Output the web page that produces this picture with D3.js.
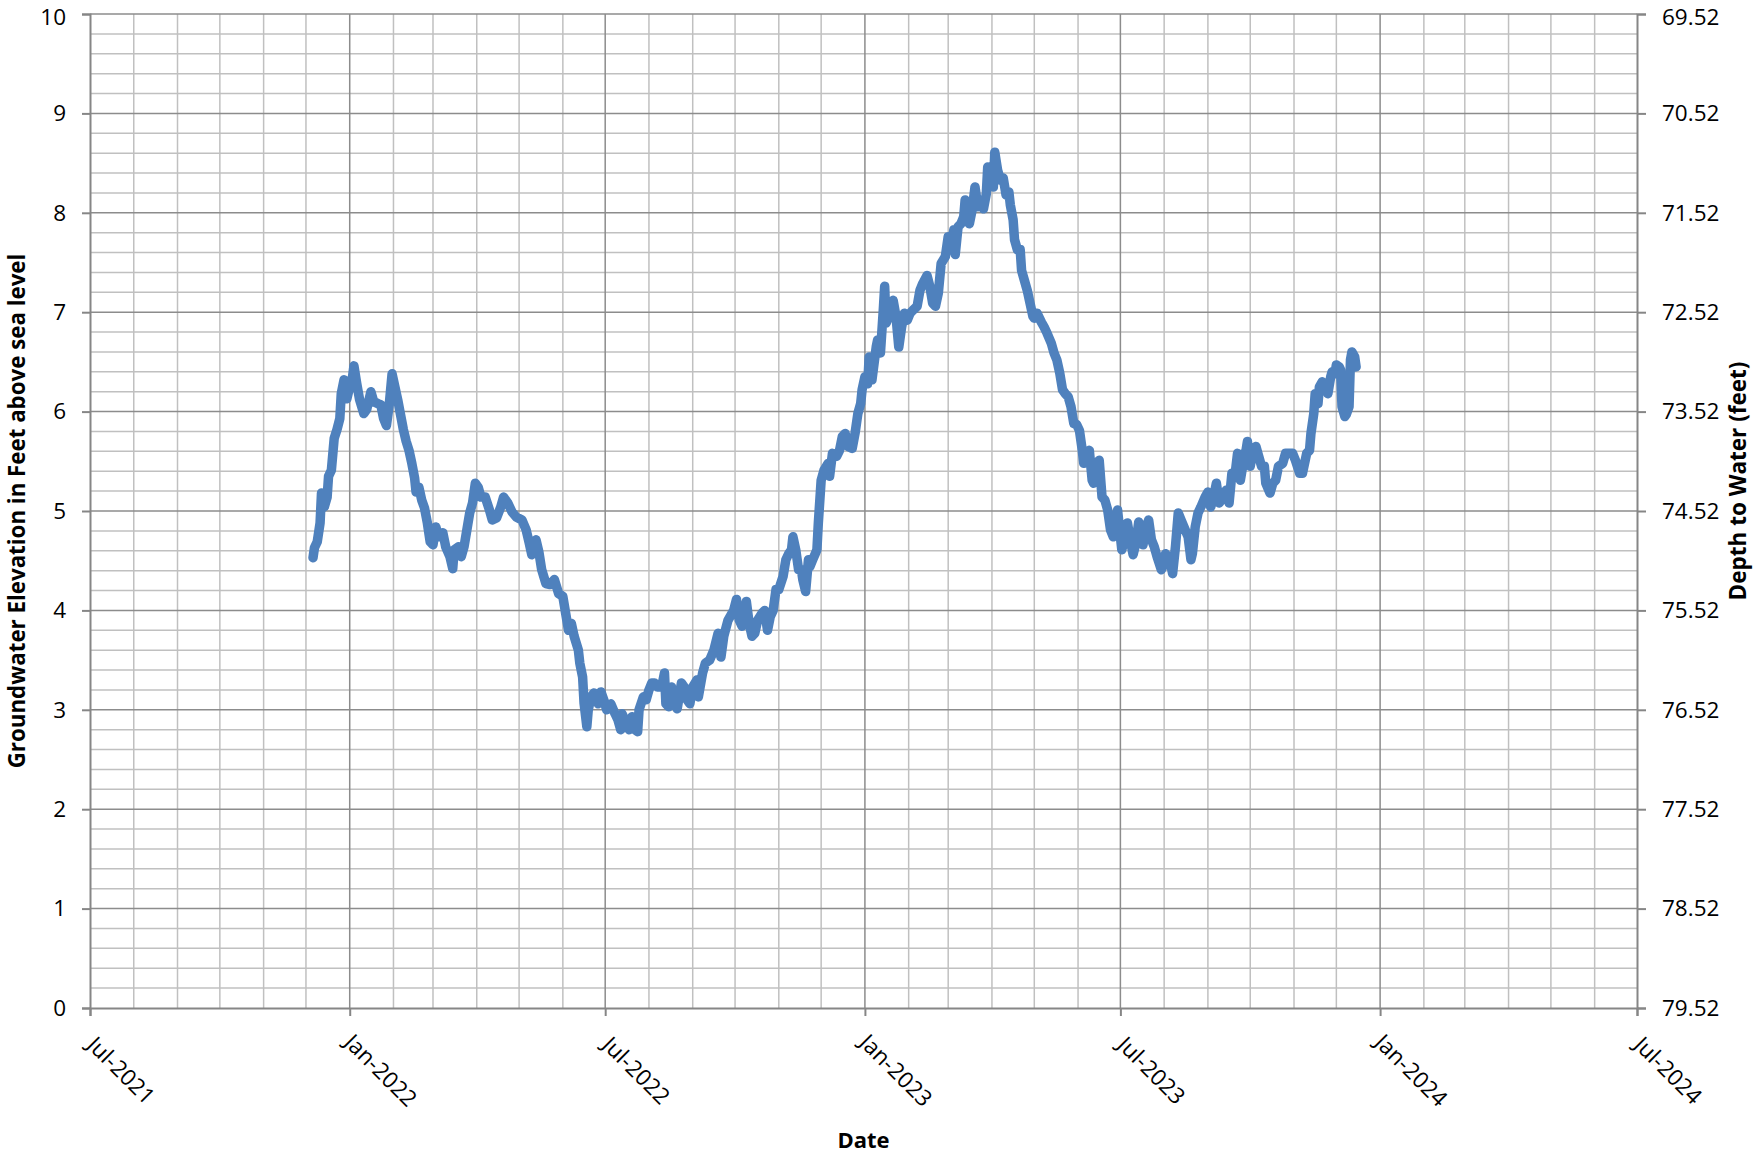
<!DOCTYPE html>
<html>
<head>
<meta charset="utf-8">
<script src="https://cdn.jsdelivr.net/npm/d3@7"></script>
<style>
  body { margin: 0; background: #fff; }
  text { font-family: "Open Sans", sans-serif; fill: #000; }
</style>
</head>
<body>
<div id="chart"></div>
<script>
/**
 * CONSTANTS
 * */
const width = 1754,
  height = 1155,
  margin = { top: 14, right: 117, bottom: 147, left: 90 };

// elevation axis (left), feet above sea level
const elevationTicks = [0, 1, 2, 3, 4, 5, 6, 7, 8, 9, 10];
// depth to water axis (right), feet
const depthTicks = [69.52, 70.52, 71.52, 72.52, 73.52, 74.52, 75.52, 76.52, 77.52, 78.52, 79.52];
// date axis labels
const dateTicks = ["2021-07-01", "2022-01-01", "2022-07-01", "2023-01-01", "2023-07-01", "2024-01-01", "2024-07-01"];

// groundwater elevation readings
const readings = [
  ["2021-12-06", 4.53], ["2021-12-07", 4.63], ["2021-12-09", 4.69], ["2021-12-11", 4.88],
  ["2021-12-12", 5.18], ["2021-12-14", 5.04], ["2021-12-16", 5.14], ["2021-12-17", 5.35],
  ["2021-12-19", 5.41], ["2021-12-21", 5.73], ["2021-12-23", 5.82], ["2021-12-25", 5.93],
  ["2021-12-26", 6.18], ["2021-12-28", 6.32], ["2021-12-30", 6.13], ["2022-01-01", 6.25],
  ["2022-01-03", 6.35], ["2022-01-04", 6.46], ["2022-01-06", 6.28], ["2022-01-08", 6.12],
  ["2022-01-11", 5.98], ["2022-01-13", 6.02], ["2022-01-16", 6.20], ["2022-01-18", 6.10],
  ["2022-01-21", 6.08], ["2022-01-23", 6.07], ["2022-01-25", 5.93], ["2022-01-27", 5.86],
  ["2022-01-29", 6.07], ["2022-01-31", 6.38], ["2022-02-02", 6.25], ["2022-02-04", 6.12],
  ["2022-02-06", 5.97], ["2022-02-08", 5.82], ["2022-02-10", 5.70], ["2022-02-12", 5.61],
  ["2022-02-14", 5.48], ["2022-02-16", 5.33], ["2022-02-17", 5.19], ["2022-02-19", 5.24],
  ["2022-02-21", 5.11], ["2022-02-23", 5.03], ["2022-02-25", 4.88], ["2022-02-27", 4.69],
  ["2022-03-01", 4.66], ["2022-03-03", 4.84], ["2022-03-05", 4.74], ["2022-03-08", 4.78],
  ["2022-03-10", 4.64], ["2022-03-13", 4.54], ["2022-03-15", 4.42], ["2022-03-16", 4.61],
  ["2022-03-19", 4.64], ["2022-03-21", 4.54], ["2022-03-23", 4.64], ["2022-03-25", 4.81],
  ["2022-03-27", 4.98], ["2022-03-29", 5.08], ["2022-03-31", 5.28], ["2022-04-02", 5.24],
  ["2022-04-04", 5.14], ["2022-04-07", 5.14], ["2022-04-10", 5.01], ["2022-04-12", 4.91],
  ["2022-04-15", 4.93], ["2022-04-18", 5.04], ["2022-04-20", 5.14], ["2022-04-23", 5.08],
  ["2022-04-26", 4.99], ["2022-04-29", 4.94], ["2022-05-03", 4.91], ["2022-05-06", 4.81],
  ["2022-05-08", 4.69], ["2022-05-10", 4.56], ["2022-05-13", 4.71], ["2022-05-15", 4.59],
  ["2022-05-17", 4.41], ["2022-05-20", 4.27], ["2022-05-23", 4.26], ["2022-05-26", 4.31],
  ["2022-05-29", 4.17], ["2022-06-01", 4.14], ["2022-06-03", 3.97], ["2022-06-05", 3.80],
  ["2022-06-07", 3.87], ["2022-06-09", 3.74], ["2022-06-12", 3.60], ["2022-06-13", 3.47],
  ["2022-06-15", 3.33], ["2022-06-16", 3.07], ["2022-06-18", 2.83], ["2022-06-19", 3.00],
  ["2022-06-21", 3.13], ["2022-06-23", 3.17], ["2022-06-26", 3.06], ["2022-06-28", 3.18],
  ["2022-06-30", 3.10], ["2022-07-02", 3.00], ["2022-07-05", 3.06], ["2022-07-08", 2.96],
  ["2022-07-10", 2.90], ["2022-07-12", 2.80], ["2022-07-13", 2.96], ["2022-07-16", 2.86],
  ["2022-07-18", 2.80], ["2022-07-20", 2.93], ["2022-07-22", 2.80], ["2022-07-24", 2.78],
  ["2022-07-25", 3.00], ["2022-07-28", 3.13], ["2022-07-30", 3.10], ["2022-08-01", 3.20],
  ["2022-08-03", 3.27], ["2022-08-05", 3.27], ["2022-08-07", 3.23], ["2022-08-10", 3.23],
  ["2022-08-12", 3.37], ["2022-08-13", 3.06], ["2022-08-15", 3.03], ["2022-08-17", 3.23],
  ["2022-08-19", 3.10], ["2022-08-21", 3.01], ["2022-08-24", 3.27], ["2022-08-26", 3.23],
  ["2022-08-28", 3.10], ["2022-08-30", 3.06], ["2022-09-01", 3.23], ["2022-09-04", 3.30],
  ["2022-09-05", 3.13], ["2022-09-08", 3.37], ["2022-09-10", 3.47], ["2022-09-13", 3.50],
  ["2022-09-16", 3.60], ["2022-09-19", 3.77], ["2022-09-21", 3.53], ["2022-09-23", 3.74],
  ["2022-09-26", 3.90], ["2022-09-30", 4.00], ["2022-10-02", 4.11], ["2022-10-04", 3.90],
  ["2022-10-06", 3.84], ["2022-10-09", 4.09], ["2022-10-11", 3.87], ["2022-10-13", 3.74],
  ["2022-10-15", 3.77], ["2022-10-17", 3.90], ["2022-10-20", 3.97], ["2022-10-22", 4.00],
  ["2022-10-24", 3.80], ["2022-10-26", 3.94], ["2022-10-28", 4.00], ["2022-10-30", 4.21],
  ["2022-11-01", 4.21], ["2022-11-04", 4.34], ["2022-11-06", 4.51], ["2022-11-08", 4.57],
  ["2022-11-10", 4.61], ["2022-11-11", 4.74], ["2022-11-13", 4.61], ["2022-11-15", 4.41],
  ["2022-11-17", 4.41], ["2022-11-18", 4.31], ["2022-11-20", 4.19], ["2022-11-22", 4.51],
  ["2022-11-23", 4.44], ["2022-11-25", 4.51], ["2022-11-28", 4.61], ["2022-11-29", 4.88],
  ["2022-12-01", 5.31], ["2022-12-03", 5.41], ["2022-12-06", 5.48], ["2022-12-07", 5.35],
  ["2022-12-09", 5.58], ["2022-12-12", 5.55], ["2022-12-14", 5.61], ["2022-12-16", 5.75],
  ["2022-12-18", 5.78], ["2022-12-20", 5.65], ["2022-12-23", 5.63], ["2022-12-25", 5.78],
  ["2022-12-27", 5.98], ["2022-12-29", 6.08], ["2022-12-30", 6.22], ["2023-01-01", 6.35],
  ["2023-01-03", 6.28], ["2023-01-04", 6.55], ["2023-01-06", 6.32], ["2023-01-09", 6.65],
  ["2023-01-10", 6.72], ["2023-01-12", 6.59], ["2023-01-14", 7.02], ["2023-01-15", 7.26],
  ["2023-01-16", 6.89], ["2023-01-18", 6.96], ["2023-01-21", 7.12], ["2023-01-23", 6.96],
  ["2023-01-25", 6.65], ["2023-01-27", 6.85], ["2023-01-29", 6.99], ["2023-01-31", 6.92],
  ["2023-02-02", 6.99], ["2023-02-04", 7.02], ["2023-02-07", 7.06], ["2023-02-09", 7.22],
  ["2023-02-11", 7.29], ["2023-02-14", 7.37], ["2023-02-16", 7.26], ["2023-02-18", 7.09],
  ["2023-02-20", 7.06], ["2023-02-22", 7.19], ["2023-02-24", 7.49], ["2023-02-27", 7.56],
  ["2023-03-01", 7.76], ["2023-03-03", 7.66], ["2023-03-05", 7.83], ["2023-03-06", 7.58],
  ["2023-03-08", 7.86], ["2023-03-10", 7.89], ["2023-03-12", 7.96], ["2023-03-13", 8.13],
  ["2023-03-15", 7.96], ["2023-03-16", 7.89], ["2023-03-18", 8.03], ["2023-03-20", 8.26],
  ["2023-03-22", 8.06], ["2023-03-24", 8.09], ["2023-03-26", 8.04], ["2023-03-28", 8.19],
  ["2023-03-29", 8.46], ["2023-03-31", 8.33], ["2023-04-01", 8.36], ["2023-04-02", 8.26],
  ["2023-04-03", 8.61], ["2023-04-05", 8.43], ["2023-04-07", 8.33], ["2023-04-09", 8.35],
  ["2023-04-11", 8.18], ["2023-04-13", 8.21], ["2023-04-14", 8.08], ["2023-04-16", 7.93],
  ["2023-04-17", 7.73], ["2023-04-19", 7.63], ["2023-04-21", 7.63], ["2023-04-22", 7.42],
  ["2023-04-24", 7.32], ["2023-04-26", 7.22], ["2023-04-28", 7.09], ["2023-04-30", 6.96],
  ["2023-05-01", 6.94], ["2023-05-03", 6.99], ["2023-05-06", 6.90], ["2023-05-08", 6.85],
  ["2023-05-10", 6.79], ["2023-05-13", 6.69], ["2023-05-15", 6.59], ["2023-05-17", 6.52],
  ["2023-05-19", 6.39], ["2023-05-21", 6.22], ["2023-05-23", 6.18], ["2023-05-25", 6.15],
  ["2023-05-27", 6.05], ["2023-05-29", 5.88], ["2023-05-31", 5.87], ["2023-06-02", 5.81],
  ["2023-06-04", 5.61], ["2023-06-05", 5.48], ["2023-06-06", 5.58], ["2023-06-09", 5.61],
  ["2023-06-11", 5.31], ["2023-06-12", 5.28], ["2023-06-14", 5.48], ["2023-06-16", 5.51],
  ["2023-06-18", 5.14], ["2023-06-20", 5.11], ["2023-06-22", 5.01], ["2023-06-24", 4.81],
  ["2023-06-26", 4.74], ["2023-06-28", 4.88], ["2023-06-29", 5.01], ["2023-07-01", 4.74],
  ["2023-07-02", 4.61], ["2023-07-04", 4.71], ["2023-07-06", 4.88], ["2023-07-08", 4.71],
  ["2023-07-10", 4.56], ["2023-07-12", 4.68], ["2023-07-14", 4.89], ["2023-07-16", 4.81],
  ["2023-07-17", 4.66], ["2023-07-19", 4.81], ["2023-07-21", 4.91], ["2023-07-23", 4.71],
  ["2023-07-25", 4.64], ["2023-07-27", 4.54], ["2023-07-30", 4.41], ["2023-07-31", 4.44],
  ["2023-08-02", 4.57], ["2023-08-05", 4.51], ["2023-08-07", 4.37], ["2023-08-09", 4.64],
  ["2023-08-11", 4.98], ["2023-08-13", 4.91], ["2023-08-15", 4.84], ["2023-08-18", 4.74],
  ["2023-08-20", 4.51], ["2023-08-21", 4.57], ["2023-08-23", 4.84], ["2023-08-25", 4.98],
  ["2023-08-27", 5.04], ["2023-08-30", 5.14], ["2023-09-01", 5.19], ["2023-09-03", 5.04],
  ["2023-09-05", 5.14], ["2023-09-07", 5.28], ["2023-09-09", 5.08], ["2023-09-12", 5.14],
  ["2023-09-14", 5.21], ["2023-09-16", 5.08], ["2023-09-18", 5.38], ["2023-09-20", 5.34],
  ["2023-09-22", 5.58], ["2023-09-24", 5.31], ["2023-09-26", 5.48], ["2023-09-28", 5.61],
  ["2023-09-29", 5.70], ["2023-10-01", 5.45], ["2023-10-03", 5.61], ["2023-10-05", 5.65],
  ["2023-10-07", 5.55], ["2023-10-09", 5.45], ["2023-10-11", 5.45], ["2023-10-12", 5.28],
  ["2023-10-15", 5.18], ["2023-10-17", 5.28], ["2023-10-19", 5.31], ["2023-10-21", 5.45],
  ["2023-10-24", 5.48], ["2023-10-26", 5.58], ["2023-10-29", 5.58], ["2023-10-31", 5.58],
  ["2023-11-02", 5.51], ["2023-11-05", 5.38], ["2023-11-07", 5.38], ["2023-11-10", 5.58],
  ["2023-11-12", 5.61], ["2023-11-13", 5.78], ["2023-11-15", 5.98], ["2023-11-16", 6.18],
  ["2023-11-18", 6.08], ["2023-11-19", 6.25], ["2023-11-21", 6.30], ["2023-11-23", 6.28],
  ["2023-11-25", 6.18], ["2023-11-27", 6.35], ["2023-11-28", 6.40], ["2023-11-30", 6.38],
  ["2023-12-01", 6.47], ["2023-12-03", 6.45], ["2023-12-04", 6.42], ["2023-12-05", 6.05],
  ["2023-12-07", 5.95], ["2023-12-08", 5.97], ["2023-12-10", 6.05], ["2023-12-11", 6.52],
  ["2023-12-12", 6.60], ["2023-12-14", 6.55], ["2023-12-15", 6.45]
];

const parseDate = d3.utcParse("%Y-%m-%d");
const series = readings.map(([d, v]) => ({ date: parseDate(d), value: v }));
const tickDates = dateTicks.map(parseDate);

const svg = d3.select("#chart")
  .append("svg")
  .attr("width", width)
  .attr("height", height);

const x = d3.scaleUtc()
  .domain([tickDates[0], tickDates[tickDates.length - 1]])
  .range([margin.left, width - margin.right]);

const y = d3.scaleLinear()
  .domain([0, 10])
  .range([height - margin.bottom, margin.top]);

const yDepth = d3.scaleLinear()
  .domain([79.52, 69.52])
  .range([height - margin.bottom, margin.top]);

const x0 = margin.left, x1 = width - margin.right;
const y0 = height - margin.bottom, y1 = margin.top;

// minor grid: monthly and every 0.2 ft
const minorMonths = d3.utcMonth.range(tickDates[0], tickDates[tickDates.length - 1])
  .filter(d => d.getUTCMonth() % 6 !== 0);
const minorLevels = d3.range(1, 50).map(i => i / 5).filter(v => Math.abs(v - Math.round(v)) > 0.01);

svg.append("g")
  .attr("stroke", "#c0c0c0")
  .attr("stroke-width", 1.5)
  .selectAll("line.vminor")
  .data(minorMonths)
  .join("line")
  .attr("x1", d => x(d)).attr("x2", d => x(d))
  .attr("y1", y1).attr("y2", y0);

svg.append("g")
  .attr("stroke", "#c0c0c0")
  .attr("stroke-width", 1.5)
  .selectAll("line.hminor")
  .data(minorLevels)
  .join("line")
  .attr("x1", x0).attr("x2", x1)
  .attr("y1", d => y(d)).attr("y2", d => y(d));

// major grid
svg.append("g")
  .attr("stroke", "#8c8c8c")
  .attr("stroke-width", 1.5)
  .selectAll("line")
  .data(tickDates.slice(1, -1))
  .join("line")
  .attr("x1", d => x(d)).attr("x2", d => x(d))
  .attr("y1", y1).attr("y2", y0);

svg.append("g")
  .attr("stroke", "#8c8c8c")
  .attr("stroke-width", 1.5)
  .selectAll("line")
  .data(elevationTicks.slice(1))
  .join("line")
  .attr("x1", x0).attr("x2", x1)
  .attr("y1", d => y(d)).attr("y2", d => y(d));

// axes
const axisColor = "#868686";

const leftAxis = svg.append("g")
  .attr("transform", `translate(${x0},0)`)
  .call(d3.axisLeft(y).tickValues(elevationTicks).tickSize(8).tickPadding(16).tickFormat(d3.format("d")));

const rightAxis = svg.append("g")
  .attr("transform", `translate(${x1},0)`)
  .call(d3.axisRight(yDepth).tickValues(depthTicks).tickSize(9).tickPadding(16).tickFormat(d3.format(".2f")));

const bottomAxis = svg.append("g")
  .attr("transform", `translate(0,${y0})`)
  .call(d3.axisBottom(x).tickValues(tickDates).tickSize(8).tickFormat(d3.utcFormat("%b-%Y")));

[leftAxis, rightAxis, bottomAxis].forEach(g => {
  g.select(".domain").attr("stroke", axisColor).attr("stroke-width", 2);
  g.selectAll(".tick line").attr("stroke", axisColor).attr("stroke-width", 2);
  g.selectAll("text")
    .attr("font-family", "Open Sans, sans-serif")
    .attr("font-size", 22.5)
    .attr("fill", "#000");
});

// keep the topmost labels inside the page edge
leftAxis.selectAll(".tick text").filter(d => d === 10).attr("y", 3);
rightAxis.selectAll(".tick text").filter(d => d === 69.52).attr("y", 3);

bottomAxis.selectAll("text")
  .attr("text-anchor", "middle")
  .attr("dy", null)
  .attr("y", null)
  .attr("dominant-baseline", "central")
  .attr("transform", "translate(31,62) rotate(45)");

// the hydrograph
const line = d3.line()
  .x(d => x(d.date))
  .y(d => y(d.value));

svg.append("path")
  .datum(series)
  .attr("fill", "none")
  .attr("stroke", "#4f81bd")
  .attr("stroke-width", 9.5)
  .attr("stroke-linejoin", "round")
  .attr("stroke-linecap", "round")
  .attr("d", line);

// axis titles
svg.append("text")
  .attr("x", (x0 + x1) / 2)
  .attr("y", 1139)
  .attr("text-anchor", "middle")
  .attr("dominant-baseline", "central")
  .attr("font-size", 22)
  .attr("font-weight", "bold")
  .text("Date");

svg.append("text")
  .attr("transform", `translate(16,${(y0 + y1) / 2}) rotate(-90)`)
  .attr("text-anchor", "middle")
  .attr("dominant-baseline", "central")
  .attr("font-size", 22.3)
  .attr("font-weight", "bold")
  .text("Groundwater Elevation in Feet above sea level");

svg.append("text")
  .attr("transform", "translate(1737,481) rotate(-90)")
  .attr("text-anchor", "middle")
  .attr("dominant-baseline", "central")
  .attr("font-size", 22.5)
  .attr("font-weight", "bold")
  .text("Depth to Water (feet)");
</script>
</body>
</html>
